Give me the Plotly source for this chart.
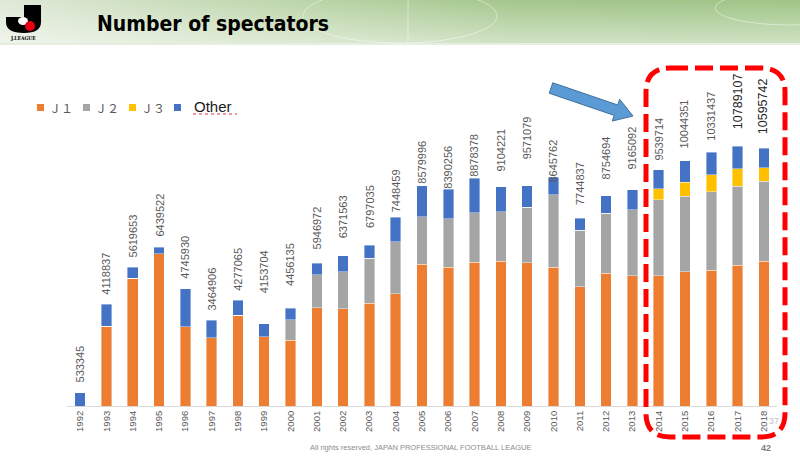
import base64
import plotly.graph_objects as go

# spectators per year
years = [str(y) for y in range(1992, 2019)]
j1 = [0, 3235750, 5173817, 6159691, 3204807, 2755698, 3666496, 2798005, 2655553,
      3971000, 3930000, 4160000, 4540000, 5740000, 5620000, 5830000, 5870000, 5800000,
      5620000, 4820000, 5370000, 5270000, 5270000, 5440000, 5500000, 5700000, 5860000]
j2 = [0, 0, 0, 0, 0, 0, 0, 0, 838000,
      1340000, 1500000, 1820000, 2110000, 1920000, 1970000, 2000000, 2000000, 2240000,
      2930000, 2300000, 2430000, 2670000, 3090000, 3050000, 3170000, 3200000, 3240000]
j3 = [0] * 22 + [445000, 567000, 689000, 717000, 555000]
other = [533345, 883087, 445836, 279831, 1541123, 709208, 610569, 540000, 474000,
         474000, 648000, 540000, 1000000, 1260000, 1190000, 1390000, 1000000, 875000,
         717000, 474000, 717000, 822000, 770000, 879000, 919000, 903000, 782000]
totals = [533345, 4118837, 5619653, 6439522, 4745930, 3464906, 4277065, 4153704, 4456135,
          5946972, 6371563, 6797035, 7448459, 8579996, 8390256, 8878378, 9104221, 9571079,
          8645762, 7744837, 8754694, 9165092, 9539714, 10044351, 10331437, 10789107, 10595742]
series_names = ["Ｊ１", "Ｊ２", "Ｊ３", "Other"]
series_colors = ["#ED7D31", "#A5A5A5", "#FFC000", "#4472C4"]

W, H = 800, 470
L, R, T, B = 67, 23, 60, 64
PW, PH = W - L - R, H - T - B
YMAX = PH * 40500


def px(x):
    return (x - L) / PW


def py(y):
    return (H - B - y) / PH


def path(cmds):
    out = []
    for c, pts in cmds:
        out.append(c + " ".join(f"{px(x):.5f},{py(y):.5f}" for x, y in pts))
    return " ".join(out) + " Z"


fig = go.Figure()
for name, vals, col in zip(series_names, [j1, j2, j3, other], series_colors):
    fig.add_trace(go.Bar(x=years, y=vals, name=name, marker_color=col,
                         marker_line=dict(width=0.5, color="rgba(255,255,255,0.8)")))

annotations = []
for i, (yr, v) in enumerate(zip(years, totals)):
    big = yr in ("2017", "2018")
    annotations.append(dict(
        x=i, y=v, xref="x", yref="y", text=str(v), showarrow=False, textangle=-90,
        xanchor="center", yanchor="bottom", yshift=8,
        font=dict(family="Liberation Sans", size=12.5 if big else 11,
                  color="#262626" if big else "#595959")))

# title
annotations.append(dict(x=px(95), y=py(24), xref="paper", yref="paper", text="Number of spectators",
                        showarrow=False, xanchor="left", yanchor="middle",
                        font=dict(family="DejaVu Sans Condensed", size=21, color="black", weight="bold")))
annotations.append(dict(x=px(23), y=py(38), xref="paper", yref="paper", text="J.LEAGUE",
                        showarrow=False, xanchor="center", yanchor="middle",
                        font=dict(family="DejaVu Serif Condensed", size=5, color="black", weight="bold")))

# legend drawn by hand
shapes = []
leg_x = [37, 83, 129, 174]
for name, col, lx in zip(series_names, series_colors, leg_x):
    shapes.append(dict(type="rect", xref="paper", yref="paper", x0=px(lx), x1=px(lx + 7),
                       y0=py(111), y1=py(104), fillcolor=col, line_width=0))
    last = name == "Other"
    annotations.append(dict(x=px(lx + (18 if last else 10)), y=py(106 if last else 107),
                            xref="paper", yref="paper", text=name, showarrow=False,
                            xanchor="left", yanchor="middle",
                            font=dict(family="Liberation Sans" if last else "Noto Sans CJK JP",
                                      size=15 if last else 12,
                                      color="#1a1a1a" if last else "#595959")))
shapes.append(dict(type="line", xref="paper", yref="paper", x0=px(193), x1=px(237),
                   y0=py(114), y1=py(114), line=dict(color="#e03030", width=1, dash="dot")))

# footer
annotations.append(dict(x=px(420), y=py(454), xref="paper", yref="paper",
                        text="All rights reserved, JAPAN PROFESSIONAL FOOTBALL LEAGUE",
                        showarrow=False, font=dict(family="Liberation Sans", size=7.5, color="#8c8c8c")))
annotations.append(dict(x=px(773), y=py(455), xref="paper", yref="paper", text="42", showarrow=False,
                        font=dict(family="Liberation Sans", size=9, color="#7f7f7f", weight="bold")))
annotations.append(dict(x=px(767), y=py(428), xref="paper", yref="paper", text="37", showarrow=False,
                        xanchor="left", font=dict(family="Liberation Sans", size=9, color="#c0c0c0")))

# J.League logo
shapes.append(dict(type="path", xref="paper", yref="paper", fillcolor="black", line_width=0,
                   path=path([("M", [(24, 5)]), ("L", [(41, 5)]), ("L", [(41, 22)]),
                              ("Q", [(41, 33), (24, 33)]), ("Q", [(6, 33), (6, 22)]),
                              ("L", [(6, 17)]), ("L", [(24, 17)])])))
shapes.append(dict(type="circle", xref="paper", yref="paper", x0=px(18), x1=px(28),
                   y0=py(25), y1=py(17), fillcolor="white", line_width=0))
shapes.append(dict(type="circle", xref="paper", yref="paper", x0=px(25), x1=px(35),
                   y0=py(31), y1=py(21), fillcolor="#e60012", line_width=0))

# arrow
tail, tip = (551, 88), (633, 116)
dx, dy = tip[0] - tail[0], tip[1] - tail[1]
ln = (dx * dx + dy * dy) ** 0.5
ux, uy = dx / ln, dy / ln
nx, ny = -uy, ux
hw, hh, hl = 5.5, 11.5, 18
bx, by = tip[0] - ux * hl, tip[1] - uy * hl
pts = [(tail[0] + nx * hw, tail[1] + ny * hw), (bx + nx * hw, by + ny * hw),
       (bx + nx * hh, by + ny * hh), tip, (bx - nx * hh, by - ny * hh),
       (bx - nx * hw, by - ny * hw), (tail[0] - nx * hw, tail[1] - ny * hw)]
shapes.append(dict(type="path", xref="paper", yref="paper", fillcolor="#5B9BD5",
                   line=dict(color="#41719C", width=1),
                   path=path([("M", [pts[0]])] + [("L", [p]) for p in pts[1:]])))

# red dashed rounded box
x0, x1, y0, y1, rr = 646, 785, 68, 437, 24
shapes.append(dict(type="path", xref="paper", yref="paper", line=dict(color="#FF0000", width=5, dash="18px,7px"),
                   path=path([("M", [(x0 + rr, y0)]), ("L", [(x1 - rr, y0)]), ("Q", [(x1, y0), (x1, y0 + rr)]),
                              ("L", [(x1, y1 - rr)]), ("Q", [(x1, y1), (x1 - rr, y1)]),
                              ("L", [(x0 + rr, y1)]), ("Q", [(x0, y1), (x0, y1 - rr)]),
                              ("L", [(x0, y0 + rr)]), ("Q", [(x0, y0), (x0 + rr, y0)])])))

# header band
svg = ("<svg xmlns='http://www.w3.org/2000/svg' width='800' height='45' viewBox='0 0 800 45' preserveAspectRatio='none'>"
       "<defs><linearGradient id='g' x1='0' x2='1' y1='0' y2='0'>"
       "<stop offset='0' stop-color='#dfe9d7'/><stop offset='0.3' stop-color='#c2d9b1'/>"
       "<stop offset='0.65' stop-color='#a3c68b'/><stop offset='1' stop-color='#a0c587'/></linearGradient>"
       "<linearGradient id='v' x1='0' x2='0' y1='0' y2='1'>"
       "<stop offset='0' stop-color='#ffffff' stop-opacity='0'/><stop offset='1' stop-color='#ffffff' stop-opacity='0.5'/>"
       "</linearGradient></defs>"
       "<rect width='800' height='43' fill='url(#g)'/><rect width='800' height='43' fill='url(#v)'/>"
       "<rect y='43' width='800' height='2' fill='#e6eee0'/>"
       "<ellipse cx='400' cy='16' rx='97' ry='27' fill='none' stroke='#ffffff' stroke-opacity='0.45'/>"
       "<line x1='408' y1='0' x2='408' y2='43' stroke='#ffffff' stroke-opacity='0.45'/>"
       "<ellipse cx='790' cy='8' rx='75' ry='17' fill='none' stroke='#ffffff' stroke-opacity='0.45'/>"
       "</svg>")
src = "data:image/svg+xml;base64," + base64.b64encode(svg.encode()).decode()

fig.update_layout(
    width=W, height=H,
    margin=dict(l=L, r=R, t=T, b=B),
    barmode="stack", bargap=0.6,
    showlegend=False,
    hovermode=False,
    plot_bgcolor="white", paper_bgcolor="white",
    xaxis=dict(type="category", tickangle=-90, ticks="", showline=True, linecolor="#d9d9d9",
               showgrid=False, range=[-0.5, 26.5], fixedrange=True,
               tickfont=dict(family="Liberation Sans", size=9.5, color="#595959")),
    yaxis=dict(visible=False, range=[0, YMAX], fixedrange=True),
    annotations=annotations,
    shapes=shapes,
    images=[dict(source=src, xref="paper", yref="paper", x=px(0), y=py(0), sizex=W / PW, sizey=45 / PH,
                 xanchor="left", yanchor="top", sizing="stretch", layer="below")],
)

fig.write_html("out.html", config={"displayModeBar": False},
               post_script="document.body.style.margin='0';")
